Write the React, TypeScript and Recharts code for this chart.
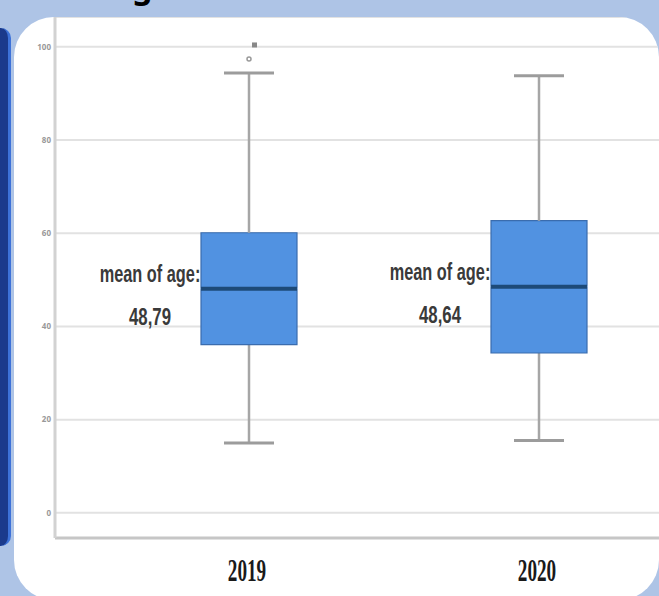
import { Bar, CartesianGrid, ComposedChart, Line, XAxis, YAxis } from "recharts";

// box plot of age per year
const years = ["2019", "2020"];
const whiskerLow = [15.0, 15.5];
const q1 = [36.1, 34.3];
const median = [48.1, 48.5];
const q3 = [60.1, 62.7];
const whiskerHigh = [94.4, 93.8];
const meanLabels = ["48,79", "48,64"];
const outlierCircle = [97.4, null];
const outlierStar = [100.4, null];
const yTicks = [0, 20, 40, 60, 80, 100];

const rows = years.map((year, i) => ({
  year,
  base: whiskerLow[i],
  lowWhisker: q1[i] - whiskerLow[i],
  lowBox: median[i] - q1[i],
  highBox: q3[i] - median[i],
  highWhisker: whiskerHigh[i] - q3[i],
  mean: meanLabels[i],
  outCircle: outlierCircle[i],
  outStar: outlierStar[i],
}));

const BOX_FILL = "#5192e1";
const BOX_EDGE = "#3a6cae";
const MEDIAN = "#1d4a78";
const WHISKER = "#a6a6a6";

function LowWhisker(props: any) {
  const { x, y, width, height } = props;
  const cx = x + width / 2;
  return (
    <g>
      <line x1={cx} x2={cx} y1={y} y2={y + height} stroke={WHISKER} strokeWidth={2.5} />
      <line x1={cx - 25} x2={cx + 25} y1={y + height} y2={y + height} stroke="#9c9c9c" strokeWidth={3} />
    </g>
  );
}

function HighWhisker(props: any) {
  const { x, y, width, height } = props;
  const cx = x + width / 2;
  return (
    <g>
      <line x1={cx} x2={cx} y1={y} y2={y + height} stroke={WHISKER} strokeWidth={2.5} />
      <line x1={cx - 25} x2={cx + 25} y1={y} y2={y} stroke="#9c9c9c" strokeWidth={3} />
    </g>
  );
}

function LowBox(props: any) {
  const { x, y, width, height, payload } = props;
  const tx = x - 51;
  return (
    <g>
      <rect x={x} y={y} width={width} height={height} fill={BOX_FILL} />
      <path
        d={`M${x},${y} V${y + height} H${x + width} V${y}`}
        fill="none"
        stroke={BOX_EDGE}
        strokeWidth={1.2}
      />
      <text
        transform={`translate(${tx},${y - 7}) scale(0.68,1)`}
        textAnchor="middle"
        fontFamily="Liberation Sans, Arial, sans-serif"
        fontWeight="bold"
        fontSize={24}
        fill="#3a3a3a"
      >
        mean of age:
      </text>
      <text
        transform={`translate(${tx},${y + 36}) scale(0.7,1)`}
        textAnchor="middle"
        fontFamily="Liberation Sans, Arial, sans-serif"
        fontWeight="bold"
        fontSize={24}
        fill="#3a3a3a"
      >
        {payload.mean}
      </text>
    </g>
  );
}

function HighBox(props: any) {
  const { x, y, width, height } = props;
  return (
    <g>
      <rect x={x} y={y} width={width} height={height} fill={BOX_FILL} />
      <path
        d={`M${x},${y + height} V${y} H${x + width} V${y + height}`}
        fill="none"
        stroke={BOX_EDGE}
        strokeWidth={1.2}
      />
      <line x1={x} x2={x + width} y1={y + height} y2={y + height} stroke={MEDIAN} strokeWidth={4} />
    </g>
  );
}

function CircleDot(props: any) {
  const { cx, cy, value } = props;
  if (value == null || cy == null) return null;
  return <circle cx={cx} cy={cy} r={2} fill="none" stroke="#999" strokeWidth={1.5} />;
}

function StarDot(props: any) {
  const { cx, cy, value } = props;
  if (value == null || cy == null) return null;
  return <rect x={cx + 3} y={cy - 2.5} width={5} height={5} fill="#888" />;
}

function YearTick(props: any) {
  const { x, y, payload } = props;
  return (
    <text
      transform={`translate(${x - 2},${y + 35}) scale(0.62,1)`}
      textAnchor="middle"
      fontFamily="Liberation Serif, Times New Roman, serif"
      fontWeight="bold"
      fontSize={31}
      fill="#1a1a1a"
    >
      {payload.value}
    </text>
  );
}

export default function App() {
  return (
    <div
      style={{
        position: "absolute",
        left: 0,
        top: 0,
        width: 659,
        height: 596,
        background: "#aec4e6",
        overflow: "hidden",
        fontFamily: "Noto Sans, sans-serif",
      }}
    >
      <svg width={659} height={40} style={{ position: "absolute", left: 0, top: 0 }}>
        <text x={110} y={-2} fontFamily="Noto Sans, sans-serif" fontWeight="bold" fontSize={32} fill="#000">
          Age
        </text>
      </svg>

      <div
        style={{
          position: "absolute",
          left: -12,
          top: 28,
          width: 20,
          height: 518,
          borderRadius: 10,
          background: "#1b3a8c",
          borderRight: "3px solid #3d72d9",
        }}
      />

      <div
        style={{
          position: "absolute",
          left: 14,
          top: 17,
          width: 645,
          height: 583,
          borderRadius: 40,
          background: "#ffffff",
          overflow: "hidden",
        }}
      >
        <div style={{ position: "absolute", left: -14, top: -17 }}>
          <ComposedChart
            width={684}
            height={600}
            data={rows}
            margin={{ top: 17, right: 0, bottom: 0, left: 0 }}
            barCategoryGap={0}
          >
            <CartesianGrid vertical={false} stroke="#e2e2e2" strokeWidth={2} />
            <XAxis
              dataKey="year"
              height={62}
              padding={{ left: 49, right: 0 }}
              axisLine={{ stroke: "#c6c6c6", strokeWidth: 3 }}
              tickLine={false}
              tick={<YearTick />}
              interval={0}
            />
            <YAxis
              width={55}
              type="number"
              domain={[-5.4, 106.4]}
              ticks={yTicks}
              allowDataOverflow
              axisLine={{ stroke: "#d2d2d2", strokeWidth: 3 }}
              tickLine={false}
              tickSize={2}
              tick={{ fontSize: 8, fill: "#999", fontWeight: "bold" }}
            />
            <Bar dataKey="base" stackId="box" barSize={96} fill="transparent" isAnimationActive={false} />
            <Bar dataKey="lowWhisker" stackId="box" barSize={96} shape={<LowWhisker />} isAnimationActive={false} />
            <Bar dataKey="lowBox" stackId="box" barSize={96} shape={<LowBox />} isAnimationActive={false} />
            <Bar dataKey="highBox" stackId="box" barSize={96} shape={<HighBox />} isAnimationActive={false} />
            <Bar dataKey="highWhisker" stackId="box" barSize={96} shape={<HighWhisker />} isAnimationActive={false} />
            <Line dataKey="outCircle" stroke="none" dot={<CircleDot />} activeDot={false} isAnimationActive={false} />
            <Line dataKey="outStar" stroke="none" dot={<StarDot />} activeDot={false} isAnimationActive={false} />
          </ComposedChart>
        </div>
      </div>
    </div>
  );
}
